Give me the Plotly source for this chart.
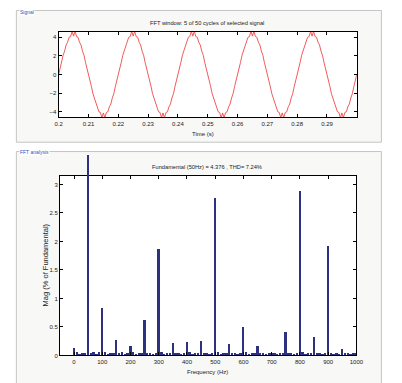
import plotly.graph_objects as go

# ---------------- data ----------------
# signal window: samples every 0.5 ms from 0.2 s to 0.3 s
t_start = 0.2
sample_period = 0.0005
signal_values = [
    0.00, 0.72, 1.30, 2.05, 2.50, 3.15, 3.45, 3.98, 4.05, 4.62, 4.10, 4.62, 4.05, 3.98, 3.45, 3.15, 2.50, 2.05, 1.30, 0.72,
    0.00, -0.72, -1.30, -2.05, -2.50, -3.15, -3.45, -3.98, -4.05, -4.62, -4.10, -4.62, -4.05, -3.98, -3.45, -3.15, -2.50, -2.05, -1.30, -0.72,
    0.00, 0.72, 1.30, 2.05, 2.50, 3.15, 3.45, 3.98, 4.05, 4.62, 4.10, 4.62, 4.05, 3.98, 3.45, 3.15, 2.50, 2.05, 1.30, 0.72,
    0.00, -0.72, -1.30, -2.05, -2.50, -3.15, -3.45, -3.98, -4.05, -4.62, -4.10, -4.62, -4.05, -3.98, -3.45, -3.15, -2.50, -2.05, -1.30, -0.72,
    0.00, 0.72, 1.30, 2.05, 2.50, 3.15, 3.45, 3.98, 4.05, 4.62, 4.10, 4.62, 4.05, 3.98, 3.45, 3.15, 2.50, 2.05, 1.30, 0.72,
    0.00, -0.72, -1.30, -2.05, -2.50, -3.15, -3.45, -3.98, -4.05, -4.62, -4.10, -4.62, -4.05, -3.98, -3.45, -3.15, -2.50, -2.05, -1.30, -0.72,
    0.00, 0.72, 1.30, 2.05, 2.50, 3.15, 3.45, 3.98, 4.05, 4.62, 4.10, 4.62, 4.05, 3.98, 3.45, 3.15, 2.50, 2.05, 1.30, 0.72,
    0.00, -0.72, -1.30, -2.05, -2.50, -3.15, -3.45, -3.98, -4.05, -4.62, -4.10, -4.62, -4.05, -3.98, -3.45, -3.15, -2.50, -2.05, -1.30, -0.72,
    0.00, 0.72, 1.30, 2.05, 2.50, 3.15, 3.45, 3.98, 4.05, 4.62, 4.10, 4.62, 4.05, 3.98, 3.45, 3.15, 2.50, 2.05, 1.30, 0.72,
    0.00, -0.72, -1.30, -2.05, -2.50, -3.15, -3.45, -3.98, -4.05, -4.62, -4.10, -4.62, -4.05, -3.98, -3.45, -3.15, -2.50, -2.05, -1.30, -0.72,
    0.00,
]
time_values = [t_start + i * sample_period for i in range(len(signal_values))]

time_ticks = [0.2, 0.21, 0.22, 0.23, 0.24, 0.25, 0.26, 0.27, 0.28, 0.29]
time_tick_labels = ["0.2", "0.21", "0.22", "0.23", "0.24", "0.25", "0.26", "0.27", "0.28", "0.29"]
signal_ticks = [-4, -2, 0, 2, 4]

# FFT: 10 Hz resolution, 0..1000 Hz, magnitude in % of fundamental
# (the 50 Hz bar is given by its visible, clipped height)
freq_resolution = 10
fft_mag = [
    0.14, 0.07, 0.03, 0.05, 0.05, 3.52, 0.05, 0.06, 0.03, 0.07,
    0.84, 0.07, 0.03, 0.05, 0.05, 0.28, 0.05, 0.06, 0.03, 0.05,
    0.17, 0.06, 0.03, 0.05, 0.04, 0.62, 0.05, 0.05, 0.03, 0.05,
    1.87, 0.06, 0.03, 0.05, 0.04, 0.22, 0.05, 0.05, 0.03, 0.05,
    0.23, 0.06, 0.03, 0.04, 0.04, 0.25, 0.05, 0.05, 0.03, 0.05,
    2.76, 0.06, 0.03, 0.04, 0.04, 0.20, 0.05, 0.05, 0.03, 0.05,
    0.50, 0.06, 0.03, 0.04, 0.04, 0.17, 0.05, 0.04, 0.03, 0.04,
    0.05, 0.04, 0.03, 0.04, 0.04, 0.41, 0.05, 0.05, 0.03, 0.05,
    2.88, 0.06, 0.03, 0.04, 0.04, 0.32, 0.05, 0.04, 0.03, 0.05,
    1.93, 0.05, 0.03, 0.04, 0.03, 0.12, 0.04, 0.04, 0.03, 0.04,
    0.05,
]
fft_freq = [i * freq_resolution for i in range(len(fft_mag))]
freq_ticks = [0, 100, 200, 300, 400, 500, 600, 700, 800, 900, 1000]
mag_ticks = [0, 0.5, 1, 1.5, 2, 2.5, 3]
mag_tick_labels = ["0", "0.5", "1", "1.5", "2", "2.5", "3"]

signal_title = "FFT window: 5 of 50 cycles of selected signal"
fft_title = "Fundamental (50Hz) = 4.376 , THD= 7.24%"

# ---------------- figure ----------------
# the page body has an 8 px margin, so the figure starts at (8, 8)
OFF = 8
W, H = 402 - OFF, 383 - OFF
def px(x):
    return (x - OFF) / W
def py(y):
    return 1 - (y - OFF) / H

FONT = "Liberation Sans, Arial"

# FFT subplot geometry (page px)
fft_left, fft_right = 57.3, 362.3
fft_top, fft_bottom = 177.3, 358.3
mag_max = 3.15
px_per_unit = (fft_bottom - fft_top) / mag_max
over_top = 152.0  # region above the box where the tall bar may show
over_max = mag_max + (fft_top - over_top) / px_per_unit

fig = go.Figure()
fig.add_trace(go.Scatter(x=time_values, y=signal_values, mode="lines",
                         line=dict(color="#ef4848", width=0.9),
                         xaxis="x", yaxis="y", hoverinfo="skip", showlegend=False))
bar_style = dict(color="#2d3180", line=dict(width=0))
fig.add_trace(go.Bar(x=fft_freq, y=fft_mag, width=6.5, marker=bar_style,
                     xaxis="x2", yaxis="y2", hoverinfo="skip", showlegend=False))
# same bars on an invisible companion subplot above the box (shows the part past the axis top)
fig.add_trace(go.Bar(x=fft_freq, y=fft_mag, width=6.5, marker=bar_style,
                     xaxis="x3", yaxis="y3", hoverinfo="skip", showlegend=False))

axis_common = dict(showline=True, linecolor="black", linewidth=1, mirror="ticks",
                   ticks="inside", ticklen=3, tickcolor="black", showgrid=False,
                   zeroline=False, tickfont=dict(family=FONT, size=6, color="#222"))

fig.update_layout(
    width=W, height=H, margin=dict(l=0, r=0, t=0, b=0),
    paper_bgcolor="white", plot_bgcolor="white", bargap=0,
    xaxis=dict(domain=[px(56), px(362.7)], range=[0.2, 0.3], anchor="y",
               tickvals=time_ticks, ticktext=time_tick_labels, **axis_common),
    yaxis=dict(domain=[py(118.3), py(32.3)], range=[-4.58, 4.53], anchor="x",
               tickvals=signal_ticks, **axis_common),
    xaxis2=dict(domain=[px(fft_left), px(fft_right)], range=[-50, 1000], anchor="y2",
                tickvals=freq_ticks, **axis_common),
    yaxis2=dict(domain=[py(fft_bottom), py(fft_top)], range=[0, mag_max], anchor="x2",
                tickvals=mag_ticks, ticktext=mag_tick_labels, **axis_common),
    xaxis3=dict(domain=[px(fft_left), px(fft_right)], range=[-50, 1000], anchor="y3",
                visible=False),
    yaxis3=dict(domain=[py(fft_top), py(over_top)], range=[mag_max, over_max], anchor="x3",
                visible=False),
)

# panels (uipanel look)
panel_fill = "#f8f8f7"
border = "#c4c4c4"
shapes = [
    dict(type="rect", xref="paper", yref="paper", x0=px(12.5), x1=px(388), y0=py(143.3), y1=py(10.5),
         line=dict(color=border, width=1), fillcolor=panel_fill, layer="below"),
    dict(type="rect", xref="paper", yref="paper", x0=px(12.5), x1=px(388), y0=py(395), y1=py(152.7),
         line=dict(color=border, width=1), fillcolor=panel_fill, layer="below"),
    dict(type="rect", xref="paper", yref="paper", x0=px(56), x1=px(362.7), y0=py(118.3), y1=py(32.3),
         line=dict(width=0), fillcolor="white", layer="below"),
    dict(type="rect", xref="paper", yref="paper", x0=px(fft_left), x1=px(fft_right),
         y0=py(fft_bottom), y1=py(fft_top), line=dict(width=0), fillcolor="white", layer="below"),
]
fig.update_layout(shapes=shapes)

ann = []
def text(x, y, s, size=6, color="#222", angle=0, xanchor="center", bg=None):
    d = dict(x=px(x), y=py(y), xref="paper", yref="paper", text=s, showarrow=False,
             font=dict(family=FONT, size=size, color=color), textangle=angle,
             xanchor=xanchor, yanchor="middle")
    if bg:
        d["bgcolor"] = bg
        d["borderpad"] = 0
    ann.append(d)

text(209, 23, signal_title, size=5.7)
text(204, 135.5, "Time (s)", size=6)
text(209, 168.5, fft_title, size=5.7)
text(209, 374.5, "Frequency (Hz)", size=6)
text(42.5, 267, "Mag (% of Fundamental)", size=7.5, angle=-90)
text(15.5, 11.8, "Signal", size=5, color="#3a4fb8", xanchor="left", bg="white")
text(15.5, 152.7, "FFT analysis", size=5, color="#3a4fb8", xanchor="left", bg="white")
fig.update_layout(annotations=ann)

fig.write_html("out.html")
